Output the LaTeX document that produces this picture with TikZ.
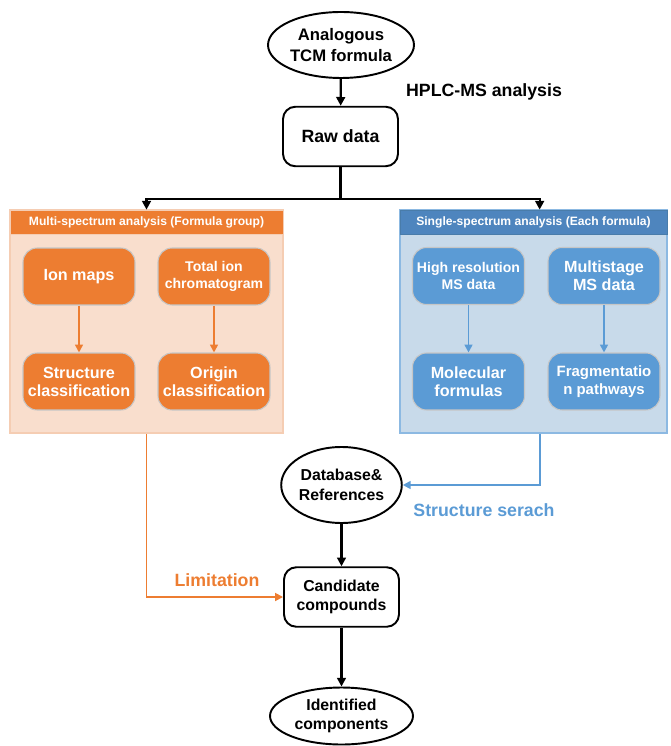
\documentclass[tikz,border=0pt]{standalone}
\usepackage{fontspec}
\setmainfont{Liberation Sans}
\usetikzlibrary{shapes.geometric,arrows.meta}
\definecolor{orng}{HTML}{ED7D31}
\definecolor{orngbg}{HTML}{F9DECD}
\definecolor{orngrim}{HTML}{F5CDB3}
\definecolor{blu}{HTML}{5B9BD5}
\definecolor{blubg}{HTML}{C8DAEA}
\definecolor{bluhead}{HTML}{4E85BE}
\definecolor{bluline}{HTML}{5B9BD5}
\tikzset{
  blk/.style={draw,line width=1.1pt,align=center,inner sep=0pt,
    font=\fontsize{9}{11}\selectfont\bfseries},
  blkbox/.style={blk,rounded corners=7pt,minimum width=2.3cm,minimum height=1.19cm},
  blkoval/.style={blk,ellipse},
  panel/.style={minimum height=4.46cm,inner sep=0pt},
  phead/.style={minimum height=0.48cm,inner sep=0pt,text=white,
    font=\fontsize{6.9}{8}\selectfont\bfseries},
  pbox/.style={rounded corners=8pt,minimum width=2.24cm,minimum height=1.14cm,
    inner sep=0pt,align=center,text=white,draw=gray!45,line width=0.6pt,
    font=\fontsize{9.2}{10.2}\selectfont\bfseries},
  pboxs/.style={pbox,font=\fontsize{8}{9.6}\selectfont\bfseries},
  arr/.style={line width=1.3pt,-{Triangle[length=5pt,width=5pt]}},
  carr/.style={line width=1pt,-{Triangle[length=4.5pt,width=4.5pt]}},
  lbl/.style={font=\fontsize{10.1}{12}\selectfont\bfseries}
}
\begin{document}
\begin{tikzpicture}[x=0.02cm,y=-0.02cm]
% \draw [help lines,step=50] (0,0) grid (670,746) ;
\useasboundingbox (0,0) rectangle (670,746);

\node[blkoval,minimum width=2.92cm,minimum height=1.32cm,
  font=\fontsize{9.5}{12}\selectfont\bfseries] (tcm) at (341,45) {Analogous\\TCM formula};
\node[lbl] (hplc) at (484,92) {HPLC-MS analysis};
\node[blkbox,font=\fontsize{10.1}{12}\selectfont\bfseries] (raw) at (340.5,136.5) {Raw data};

% multi-spectrum panel
\node[panel,minimum width=5.46cm,fill=orngbg,draw=orngrim,line width=1pt] (mpanel) at (146.5,321.5) {};
\node[phead,minimum width=5.46cm,fill=orng,draw=orngrim] (mhead) at (146.5,222) {Multi-spectrum analysis (Formula group)};
\node[pbox,fill=orng] (ion) at (79,276.5) {Ion maps};
\node[pboxs,fill=orng] (tic) at (214,276.5) {Total ion\\chromatogram};
\node[pbox,fill=orng] (struc) at (79,381.5) {Structure\\classification};
\node[pbox,fill=orng] (orig) at (214,381.5) {Origin\\classification};

% single-spectrum panel
\node[panel,minimum width=5.34cm,fill=blubg,draw=blu!70,line width=1pt] (spanel) at (533.5,321.5) {};
\node[phead,minimum width=5.34cm,fill=bluhead,draw=blu!80!black] (shead) at (533.5,222) {Single-spectrum analysis (Each formula)};
\node[pboxs,fill=blu] (hrms) at (468.5,276) {High resolution\\MS data};
\node[pbox,fill=blu] (msn) at (604,276) {Multistage\\MS data};
\node[pbox,fill=blu] (mf) at (468.5,381.5) {Molecular\\formulas};
\node[pbox,fill=blu,font=\fontsize{8.5}{10}\selectfont\bfseries] (frag) at (604,381.5) {Fragmentatio\\n pathways};

\node[blkoval,minimum width=2.34cm,minimum height=1.52cm] (db) at (341.5,485) {Database\&\\References};
\node[lbl,text=blu] (serach) at (484,510) {Structure serach};
\node[blkbox] (cand) at (341.5,597) {Candidate\\compounds};
\node[lbl,text=orng] (limit) at (217,580) {Limitation};
\node[blkoval,minimum width=2.86cm,minimum height=1.14cm] (ident) at (341.5,716) {Identified\\components};

\draw[arr] (tcm) -- (raw);
\draw[line width=1.3pt] (raw.south) -- (340.5,199) coordinate (fork);
\draw[arr] (fork) -| (mhead.north);
\draw[arr] (fork) -| ([xshift=3.5]shead.north);
\draw[carr,orng] (ion) -- (struc);
\draw[carr,orng] (tic) -- (orig);
\draw[carr,bluline] (hrms) -- (mf);
\draw[carr,bluline] (msn) -- (frag);
\draw[carr,bluline] ([xshift=3.5]spanel.south) |- (db.east);
\draw[carr,orng] (mpanel.south) |- (cand.west);
\draw[arr] (db) -- (cand);
\draw[arr] (cand) -- (ident);
\end{tikzpicture}
\end{document}
